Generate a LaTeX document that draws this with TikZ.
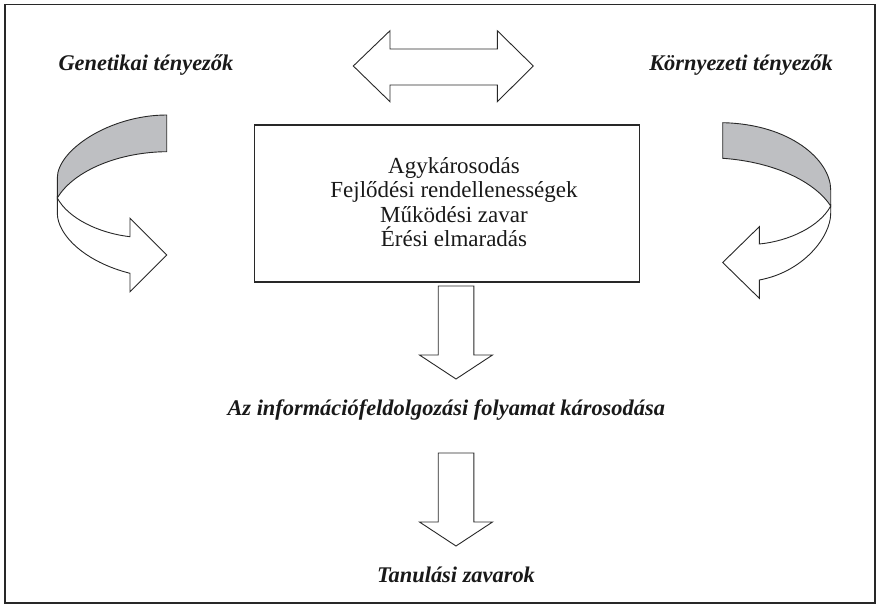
\documentclass[tikz,border=0pt]{standalone}
\usepackage{fontspec}
\setmainfont{Liberation Serif}
\definecolor{bandgray}{RGB}{190,191,194}
\definecolor{inkline}{RGB}{40,40,40}
\definecolor{inktext}{RGB}{25,25,25}
\tikzset{
  blockarrow/.style={draw=inkline, line width=0.9pt, line join=miter, fill=white},
  band/.style={draw=inkline, line width=0.9pt, line join=miter, fill=bandgray},
  factor/.style={font=\fontsize{22.4}{26}\selectfont\bfseries\itshape, text=inktext, inner sep=0pt},
  item/.style={font=\fontsize{23}{27}\selectfont, text=inktext, inner sep=0pt},
  downarrow/.pic={
    \draw[blockarrow] (-17.8,0) -- (17.8,0) -- (17.8,69) -- (36.5,69) -- (0,93)
      -- (-36.5,69) -- (-17.8,69) -- cycle;
  }
}
\begin{document}
\begin{tikzpicture}[x=1pt,y=-1pt]
\useasboundingbox (0,0) rectangle (877,607);
% outer frame
\draw[line width=1.6pt, draw=inkline] (5,4.5) rectangle (875,603);

% factor labels
\node[factor, anchor=base west] (gen) at (58.3,71) {Genetikai tényezők};
\node[factor, anchor=base east] (env) at (833,71) {Környezeti tényezők};

% two-headed arrow between the factors
\draw[blockarrow] (353.3,66) -- (390,30.7) -- (390,49) -- (497.3,49) -- (497.3,30.7)
  -- (533.3,66) -- (497.3,101.7) -- (497.3,85) -- (390,85) -- (390,101.7) -- cycle;

% central box with the causes
\node[draw=inkline, line width=1.2pt, minimum width=385pt, minimum height=157pt,
      inner sep=0pt] (causes) at (446.7,203.5) {};
\node[item, anchor=base] (c1) at (454,173.3) {Agykárosodás};
\node[item, anchor=base] (c2) at (454,197.8) {Fejlődési rendellenességek};
\node[item, anchor=base] (c3) at (454,222.3) {Működési zavar};
\node[item, anchor=base] (c4) at (454,246.3) {Érési elmaradás};

% left curved ribbon arrow
\draw[blockarrow] (57.3,196) -- (57.3,213) .. controls (57.3,235) and (85,262) .. (130,273.3)
  -- (130,291.7) -- (166.7,255) -- (130,218.3) -- (130,236.7)
  .. controls (98,233) and (68,218) .. (57.3,198) -- cycle;
\draw[band] (166.7,115) .. controls (110,115) and (57.3,150) .. (57.3,178) -- (57.3,198)
  .. controls (74,170) and (120,152) .. (166.7,151.7) -- cycle;

% right curved ribbon arrow
\draw[blockarrow] (830.7,204) -- (830.7,213.3) .. controls (830.7,237) and (803,272) .. (759.3,280)
  -- (759.3,298.3) -- (722.7,262.5) -- (759.3,226.7) -- (759.3,244)
  .. controls (790,241) and (820,226) .. (830.7,206) -- cycle;
\draw[band] (722.7,122.7) .. controls (790,124) and (830.7,160) .. (830.7,190) -- (830.7,206)
  .. controls (815,182) and (775,162) .. (722.7,158.3) -- cycle;

% downward flow
\pic at (456,286) {downarrow};
\node[factor, anchor=base west] (info) at (227.3,415.7) {Az információfeldolgozási folyamat károsodása};
\pic at (456,453) {downarrow};
\node[factor, anchor=base] (learn) at (456,582) {Tanulási zavarok};
\end{tikzpicture}
\end{document}
